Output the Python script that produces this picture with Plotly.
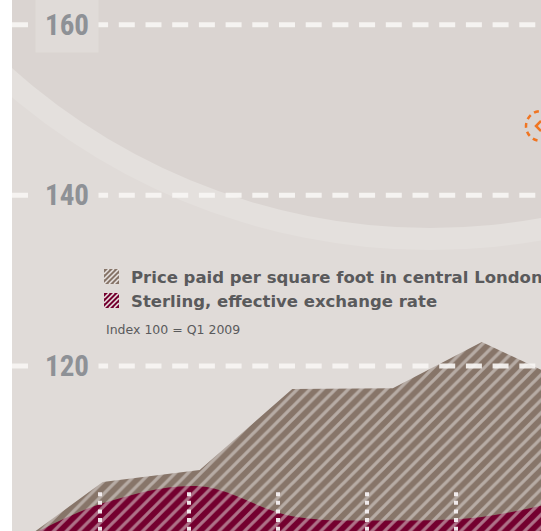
import plotly.graph_objects as go

# ---------------- data ----------------
periods = [2009.19, 2010.03, 2011.12, 2012.16, 2013.29, 2014.29, 2015.34]
price_per_sqft = [100.0, 106.4, 107.8, 117.3, 117.4, 122.8, 117.7]
sterling_eer = [100.0, 103.9, 105.9, 102.4, 101.9, 102.3, 104.6]
series_names = ["Price paid per square foot in central London",
                "Sterling, effective exchange rate"]
y_tick_vals = [120, 140, 160]
y_tick_text = ["120", "140", "160"]
x_grid_vals = [2010, 2011, 2012, 2013, 2014]
note_text = "Index 100 = Q1 2009"

# ---------------- style ----------------
W, H = 541, 531
LEFT = 12
BG_OUT = "#e0dbd8"
BG_RING = "#e4e0dd"
BG_DARK = "#dad4d1"
BROWN = "#877569"
MAROON = "#74002f"
STRIPE = "#e8e4e2"
GRID = "rgba(247,245,243,0.92)"
TICK_COLOR = "#8e9196"
TEXT_COLOR = "#5a5a5c"

X_RANGE = [2009.0112, 2014.955]
Y_RANGE = [100.66, 162.9]


def DX(px):
    return X_RANGE[0] + (px - LEFT) / (W - LEFT) * (X_RANGE[1] - X_RANGE[0])


def DY(py):
    return Y_RANGE[1] - py / H * (Y_RANGE[1] - Y_RANGE[0])


def PX(px):
    return (px - LEFT) / (W - LEFT)


def PY(py):
    return 1 - py / H


fig = go.Figure()

fig.add_trace(go.Scatter(
    x=periods, y=price_per_sqft, mode="lines", fill="tozeroy",
    line=dict(width=0, color=BROWN), name=series_names[0],
    fillpattern=dict(shape="/", bgcolor=BROWN, fgcolor=STRIPE, size=9, solidity=0.36),
    hoverinfo="skip", showlegend=False))

fig.add_trace(go.Scatter(
    x=periods, y=sterling_eer, mode="lines", fill="tozeroy",
    line=dict(width=0, color=MAROON, shape="spline", smoothing=1.0), name=series_names[1],
    fillpattern=dict(shape="/", bgcolor=MAROON, fgcolor=STRIPE, size=9, solidity=0.36),
    hoverinfo="skip", showlegend=False))

shapes = []
# background arcs
cx, cy = 430, -398
for r, col in [(648, BG_RING), (626, BG_DARK)]:
    shapes.append(dict(type="circle", xref="x", yref="y", layer="below",
                       x0=DX(cx - r), x1=DX(cx + r), y0=DY(cy + r), y1=DY(cy - r),
                       fillcolor=col, line=dict(width=0)))

# horizontal dashed gridlines (above traces)
for v in y_tick_vals:
    shapes.append(dict(type="line", xref="x", yref="y", layer="above",
                       x0=X_RANGE[0], x1=X_RANGE[1], y0=v, y1=v,
                       line=dict(color=GRID, width=5, dash="16px,10.7px")))

# vertical dotted gridlines near bottom
for xv in x_grid_vals:
    shapes.append(dict(type="line", xref="x", yref="y", layer="above",
                       x0=xv, x1=xv, y0=Y_RANGE[0] - 5, y1=DY(488),
                       line=dict(color="rgba(246,240,242,0.95)", width=4, dash="4px,4.6px")))

# orange dashed emblem at top right
shapes.append(dict(type="circle", xref="x", yref="y", layer="above",
                   x0=DX(526), x1=DX(556), y0=DY(141), y1=DY(111),
                   line=dict(color="#f07522", width=2.5, dash="5px,4px")))
shapes.append(dict(type="path", xref="x", yref="y", layer="above",
                   path=f"M{DX(541)},{DY(121)} L{DX(536)},{DY(126)} L{DX(541)},{DY(131)}",
                   line=dict(color="#f07522", width=2.5)))

# legend icons (hatched squares)
for (top, col) in [(269, BROWN), (293, MAROON)]:
    x0, y0, s = 104, top, 15
    shapes.append(dict(type="rect", xref="paper", yref="paper", layer="above",
                       x0=PX(x0), x1=PX(x0 + s), y0=PY(y0 + s), y1=PY(y0),
                       fillcolor=col, line=dict(width=0)))
    for d in [-10, -5, 0, 5, 10]:
        if d >= 0:
            ax, ay, bx, by = d, 0, s, s - d
        else:
            ax, ay, bx, by = 0, -d, s + d, s
        shapes.append(dict(type="line", xref="paper", yref="paper", layer="above",
                           x0=PX(x0 + ax), y0=PY(y0 + s - ay),
                           x1=PX(x0 + bx), y1=PY(y0 + s - by),
                           line=dict(color=STRIPE, width=1.6)))

annotations = []
for v, t in zip(y_tick_vals, y_tick_text):
    annotations.append(dict(x=PX(67), y=v, xref="paper", yref="y",
                            text=f'<span style="font-stretch:62.5%">{t}</span>',
                            showarrow=False, xanchor="center", yanchor="middle",
                            bgcolor=BG_OUT, width=62, height=54, borderpad=0,
                            font=dict(family="Roboto Condensed, Open Sans, Noto Sans, sans-serif",
                                      size=29, color=TICK_COLOR, weight="bold")))

for name, py in zip(series_names, [277, 301]):
    annotations.append(dict(x=PX(129), y=PY(py), xref="paper", yref="paper", text=name,
                            showarrow=False, xanchor="left", yanchor="middle",
                            font=dict(family="DejaVu Sans, sans-serif", size=16.5,
                                      color=TEXT_COLOR, weight="bold")))

annotations.append(dict(x=PX(104), y=PY(329), xref="paper", yref="paper", text=note_text,
                        showarrow=False, xanchor="left", yanchor="middle",
                        font=dict(family="DejaVu Sans, sans-serif", size=12.5, color=TEXT_COLOR)))

fig.update_layout(
    width=W, height=H,
    margin=dict(l=LEFT, r=0, t=0, b=0, pad=0),
    paper_bgcolor="white", plot_bgcolor=BG_OUT,
    xaxis=dict(range=X_RANGE, showgrid=False, zeroline=False, showticklabels=False,
               showline=False, ticks=""),
    yaxis=dict(range=Y_RANGE, showgrid=False, zeroline=False, showticklabels=False,
               showline=False, ticks="", tickvals=y_tick_vals),
    shapes=shapes, annotations=annotations, showlegend=False,
)

fig.write_html("out.html", config={"displayModeBar": False},
               post_script="document.body.style.margin='0';document.body.style.overflow='hidden';")
